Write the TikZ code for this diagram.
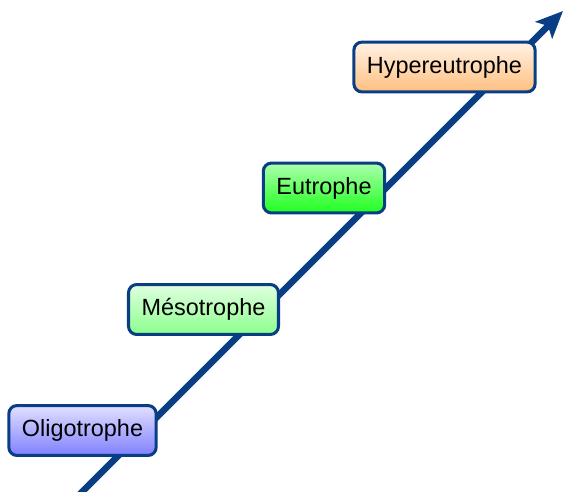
\documentclass[tikz,border=0pt]{standalone}
\usepackage{fontspec}
\setmainfont{Liberation Sans}
\usetikzlibrary{arrows.meta}

\definecolor{axisblue}{RGB}{10,62,132}

\tikzset{
	stage/.style={draw=axisblue,line width=1.3pt,rounded corners=3.5pt,
		minimum height=21.3pt,inner xsep=5.6pt,font=\fontsize{10}{12}\selectfont},
}

\begin{document}
\begin{tikzpicture}[x=0.015cm,y=-0.015cm]

\clip (0,0) rectangle (563,492);

% TROPHIC AXIS

\coordinate (low) at (80,494);
\coordinate (high) at (563,11);
\draw[axisblue,line width=2.8pt,-{Stealth[length=11.5pt,width=10pt,inset=2.5pt]}] (low) -- (high);

% STAGES

\node[stage,top color=blue!12,bottom color=blue!50] (oligo) at (82.5,430.5) {Oligotrophe};
\node[stage,top color=green!12,bottom color=green!45] (meso) at (203.5,309.5) {Mésotrophe};
\node[stage,top color=green!32,bottom color=green!88] (eu) at (324,188) {Eutrophe};
\node[stage,top color=orange!10,bottom color=orange!50] (hyper) at (444.5,67) {Hypereutrophe};

\end{tikzpicture}
\end{document}
